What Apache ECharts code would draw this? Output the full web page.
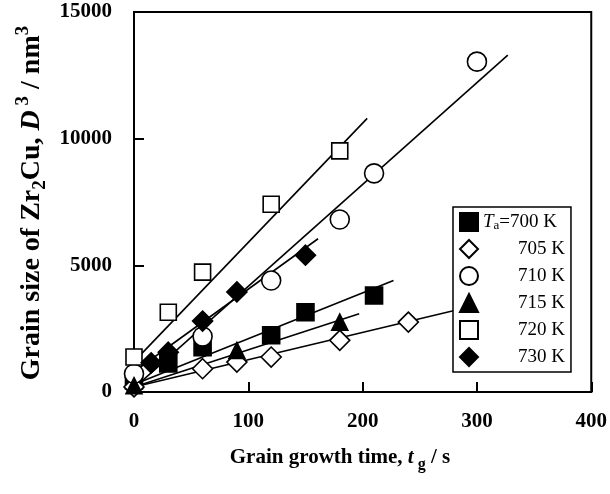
<!DOCTYPE html>
<html>
<head>
<meta charset="utf-8">
<script src="https://cdn.jsdelivr.net/npm/echarts@6/dist/echarts.min.js"></script>
<style>
  html, body { margin: 0; padding: 0; background: #fff; }
  #chart { width: 610px; height: 494px; }
</style>
</head>
<body>
<div id="chart"></div>
<script>
// Grain growth of Zr2Cu: D^3 versus growth time at several annealing temperatures
var seriesNames = ['700 K', '705 K', '710 K', '715 K', '720 K', '730 K'];

// measured points (time in s, D^3 in nm^3)
var t700 = [0, 30, 60, 120, 150, 210];
var d700 = [455, 1130, 1770, 2240, 3150, 3810];
var t705 = [0, 60, 90, 120, 180, 240];
var d705 = [200, 920, 1180, 1380, 2040, 2760];
var t710 = [0, 60, 120, 180, 210, 300];
var d710 = [720, 2190, 4400, 6810, 8630, 13040];
var t715 = [0, 90, 180];
var d715 = [250, 1640, 2760];
var t720 = [0, 30, 60, 120, 180];
var d720 = [1380, 3150, 4730, 7410, 9520];
var t730 = [15, 30, 60, 90, 150];
var d730 = [1150, 1570, 2800, 3950, 5400];

// linear fit lines: start / end (time, D^3)
var fit700 = [[0, 300], [227, 4400]];
var fit705 = [[0, 200], [283, 3250]];
var fit710 = [[0, 150], [327, 13300]];
var fit715 = [[0, 200], [197, 3090]];
var fit720 = [[0, 1200], [204, 10800]];
var fit730 = [[0, 800], [161, 6050]];

var xTicks = [0, 100, 200, 300, 400];
var yTicks = [0, 5000, 10000, 15000];

function pairs(ts, ds) {
  return ts.map(function (t, i) { return [t, ds[i]]; });
}

var SERIF = '"Liberation Serif", "Times New Roman", serif';

var markers = [
  { name: seriesNames[0], pts: pairs(t700, d700), fit: fit700, symbol: 'rect', size: 17, fill: '#000' },
  { name: seriesNames[1], pts: pairs(t705, d705), fit: fit705, symbol: 'diamond', size: 20, fill: '#fff' },
  { name: seriesNames[2], pts: pairs(t710, d710), fit: fit710, symbol: 'circle', size: 19, fill: '#fff' },
  { name: seriesNames[3], pts: pairs(t715, d715), fit: fit715, symbol: 'triangle', size: 16, fill: '#000' },
  { name: seriesNames[4], pts: pairs(t720, d720), fit: fit720, symbol: 'rect', size: 16, fill: '#fff' },
  { name: seriesNames[5], pts: pairs(t730, d730), fit: fit730, symbol: 'diamond', size: 20, fill: '#000' }
];

var series = [];
markers.forEach(function (m) {
  series.push({
    type: 'line',
    name: m.name + ' fit',
    data: m.fit,
    showSymbol: false,
    silent: true,
    animation: false,
    z: 2,
    lineStyle: { color: '#000', width: 1.6 }
  });
});
markers.forEach(function (m) {
  series.push({
    type: 'scatter',
    name: m.name,
    data: m.pts,
    symbol: m.symbol,
    symbolSize: m.size,
    animation: false,
    z: 5,
    itemStyle: { color: m.fill, borderColor: '#000', borderWidth: 1.6, opacity: 1 }
  });
});

var chart = echarts.init(document.getElementById('chart'), null, { renderer: 'canvas' });

var tickLabel = { color: '#000', fontFamily: SERIF, fontWeight: 'bold', fontSize: 21 };

chart.setOption({
  backgroundColor: '#fff',
  animation: false,
  grid: {
    left: 134, right: 13, top: 12, bottom: 102,
    show: true, borderColor: '#000', borderWidth: 2, backgroundColor: 'transparent'
  },
  xAxis: {
    type: 'value',
    min: xTicks[0], max: xTicks[xTicks.length - 1], interval: 100,
    axisLine: { lineStyle: { color: '#000', width: 2 } },
    axisTick: { inside: true, length: 10, lineStyle: { color: '#000', width: 2 } },
    splitLine: { show: false },
    axisLabel: Object.assign({ margin: 19, formatter: function (v) { return String(v); } }, tickLabel)
  },
  yAxis: {
    type: 'value',
    min: yTicks[0], max: yTicks[yTicks.length - 1], interval: 5000,
    axisLine: { lineStyle: { color: '#000', width: 2 } },
    axisTick: { inside: true, length: 10, lineStyle: { color: '#000', width: 2 } },
    splitLine: { show: false },
    axisLabel: Object.assign({ margin: 22, formatter: function (v) { return String(v); } }, tickLabel)
  },
  legend: {
    data: seriesNames,
    orient: 'vertical',
    left: 453, top: 207,
    padding: [5, 6, 5, 6],
    itemGap: 7,
    itemWidth: 18, itemHeight: 18,
    borderColor: '#000', borderWidth: 1.5,
    backgroundColor: '#fff',
    selectedMode: false,
    formatter: function (name) {
      if (name === seriesNames[0]) return '{i|T}{s|a}{n|=' + name + '}';
      return '{p|}{n|' + name + '}';
    },
    textStyle: {
      color: '#000', fontFamily: SERIF, fontSize: 19,
      rich: {
        i: { fontFamily: SERIF, fontStyle: 'italic', fontSize: 19, lineHeight: 20, verticalAlign: 'middle', color: '#000' },
        s: { fontFamily: SERIF, fontSize: 13, lineHeight: 12, verticalAlign: 'bottom', color: '#000' },
        n: { fontFamily: SERIF, fontSize: 19, lineHeight: 20, verticalAlign: 'middle', color: '#000' },
        p: { width: 35, lineHeight: 20 }
      }
    }
  },
  graphic: [
    {
      type: 'text',
      x: 340, y: 458,
      style: {
        text: '{b|Grain growth time, }{i|t}{g| g}{b| / s}',
        textAlign: 'center', textVerticalAlign: 'middle',
        align: 'center', verticalAlign: 'middle',
        fill: '#000',
        rich: {
          b: { fontFamily: SERIF, fontWeight: 'bold', fontSize: 21, lineHeight: 30, verticalAlign: 'middle', fill: '#000' },
          i: { fontFamily: SERIF, fontWeight: 'bold', fontStyle: 'italic', fontSize: 21, lineHeight: 30, verticalAlign: 'middle', fill: '#000' },
          g: { fontFamily: SERIF, fontWeight: 'bold', fontSize: 16, lineHeight: 16, verticalAlign: 'bottom', fill: '#000' }
        }
      }
    },
    {
      type: 'text',
      x: 32, y: 203,
      rotation: Math.PI / 2,
      style: {
        text: '{b|Grain size of Zr}{sb|2}{b|Cu, }{i|D}{sp| 3}{b| / nm}{sp|3}',
        textAlign: 'center', textVerticalAlign: 'middle',
        align: 'center', verticalAlign: 'middle',
        fill: '#000',
        rich: {
          b: { fontFamily: SERIF, fontWeight: 'bold', fontSize: 28, lineHeight: 36, verticalAlign: 'middle', fill: '#000' },
          i: { fontFamily: SERIF, fontWeight: 'bold', fontStyle: 'italic', fontSize: 28, lineHeight: 36, verticalAlign: 'middle', fill: '#000' },
          sb: { fontFamily: SERIF, fontWeight: 'bold', fontSize: 19, lineHeight: 19, verticalAlign: 'bottom', fill: '#000' },
          sp: { fontFamily: SERIF, fontWeight: 'bold', fontSize: 19, lineHeight: 19, verticalAlign: 'top', fill: '#000' }
        }
      }
    }
  ],
  series: series
});
</script>
</body>
</html>
